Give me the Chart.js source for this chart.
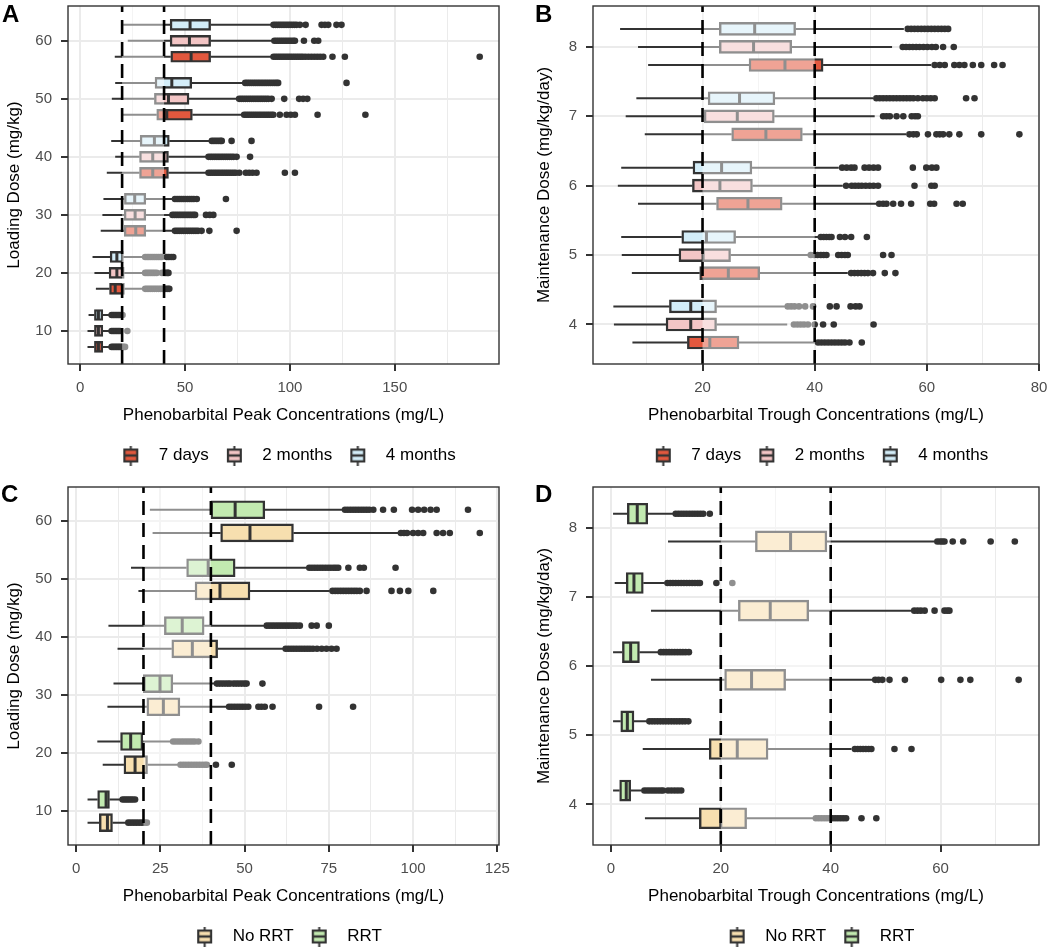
<!DOCTYPE html>
<html>
<head>
<meta charset="utf-8">
<script src="https://cdn.jsdelivr.net/npm/chart.js@4.4.1/dist/chart.umd.min.js"></script>
<style>
html,body{margin:0;padding:0;background:#fff;overflow:hidden;width:1050px;height:950px;}
.pane{position:absolute;width:525px;height:475px;}
.pane canvas{display:block;}
.lbl{position:absolute;font-family:'Liberation Sans',Arial,Helvetica,sans-serif;font-weight:bold;font-size:24px;line-height:24px;color:#000;}
</style>
</head>
<body>
<div class="pane" style="left:0;top:0"><canvas id="cA" width="525" height="475"></canvas></div>
<div class="pane" style="left:525px;top:0"><canvas id="cB" width="525" height="475"></canvas></div>
<div class="pane" style="left:0;top:481px"><canvas id="cC" width="525" height="475"></canvas></div>
<div class="pane" style="left:525px;top:481px"><canvas id="cD" width="525" height="475"></canvas></div>
<div class="lbl" style="left:2px;top:2px">A</div>
<div class="lbl" style="left:535px;top:2px">B</div>
<div class="lbl" style="left:1px;top:482px">C</div>
<div class="lbl" style="left:535px;top:482px">D</div>
<script>
// ---------------- DATA ----------------
// five-number summaries per dose: [lower whisker, Q1, median, Q3, upper whisker]
const targetRange = [20, 40];

// Panel A: loading dose vs peak concentration, by time
const doseA = [10, 20, 30, 40, 50, 60];
const xTicksA = [0, 50, 100, 150];
const xMinorA = [25, 75, 125, 175];
const yTicksA = [10, 20, 30, 40, 50, 60];
const A_7days = [[3.5,6.8,8.7,10.8,14.3],[7.5,14.0,16.7,21.1,30.2],[9.8,21.0,26.5,31.3,44.4],[12.7,28.3,34.6,42.1,60.3],[20.2,36.5,41.3,53.5,77.3],[16.5,43.2,52.9,62.2,91.3]];
const A_7days_out = [
  [15.0,15.8,16.6,17.4,18.2,19.0,19.8,20.6,21.4],
  [31.0,31.9,32.8,33.7,34.6,35.5,36.4,37.3,38.2,39.1,40.0,40.9,41.8,42.5],
  [45.2,46.2,47.2,48.2,49.2,50.2,51.2,52.2,53.2,54.2,55.2,56.2,57.9,61.6,74.6],
  [61.2,62.2,63.2,64.2,65.2,66.2,67.2,68.2,69.2,70.2,71.2,72.2,73.2,74.2,75.9,79.0,80.6,82.2,84.1,97.6,102.4],
  [78.2,79.2,80.2,81.2,82.2,83.2,84.2,85.2,86.2,87.2,88.2,89.2,90.2,91.2,92.1,95.2,98.4,100.4,102.4,113.2,136.0],
  [92.2,93.2,94.2,95.2,96.2,97.2,98.2,99.2,100.2,101.2,102.2,103.2,104.2,105.2,106.2,107.4,108.8,110.2,111.6,113.0,114.4,115.9,120.3,126.2,190.5]];
const A_2months = [[3.5,6.8,8.7,10.8,14.3],[6.8,13.8,17.5,21.0,30.2],[10.6,21.0,26.2,31.3,43.2],[16.7,28.3,34.6,42.1,60.3],[15.1,35.4,42.1,51.9,74.9],[22.7,42.9,52.1,62.2,91.7]];
const A_2months_out = [
  [15.0,15.8,16.6,17.4,18.2,19.0,22.5],
  [31.0,31.9,32.8,33.7,34.6,35.5,36.5,39.0,39.9,40.8,41.6,42.1],
  [44.0,45.0,46.0,47.0,48.0,49.0,50.0,51.0,52.0,53.0,54.0,54.8,60.0,61.8,63.5],
  [61.2,62.2,63.2,64.2,65.2,66.2,67.2,68.2,69.2,70.2,71.2,72.2,73.2,74.6,81.0],
  [75.8,76.8,77.8,78.8,79.8,80.8,81.8,82.8,83.8,84.8,85.8,86.8,87.8,88.8,89.8,91.3,97.3,104.4,106.3,108.3],
  [92.6,93.6,94.6,95.6,96.6,97.6,98.6,99.6,100.6,101.6,102.4,106.7,111.6,113.5]];
const A_4months = [[4.0,6.8,8.7,10.8,14.3],[5.9,14.3,17.5,20.6,30.2],[11.1,21.1,26.0,31.3,44.4],[14.8,28.6,35.4,42.5,61.9],[16.7,35.7,43.7,53.2,77.8],[20.5,42.9,52.4,62.2,91.3]];
const A_4months_out = [
  [15.0,15.8,16.6,17.4,18.2,19.0,20.2],
  [31.0,31.9,32.8,33.7,34.6,35.5,36.4,37.3,38.2,38.9,41.3,42.3,43.4,44.4],
  [45.2,46.2,47.2,48.2,49.2,50.2,51.2,52.2,53.2,54.2,55.6,69.5],
  [62.8,63.8,64.8,65.8,66.8,67.5,72.2,81.7],
  [78.7,79.7,80.7,81.7,82.7,83.7,84.7,85.7,86.7,87.7,88.7,89.7,90.7,91.7,92.7,93.6,94.4,127.0],
  [92.2,93.2,94.2,95.2,96.2,97.2,98.2,99.2,100.2,101.2,102.2,103.2,104.8,107.5,115.1,116.7,118.3,122.2,124.6]];

// Panel B: maintenance dose vs trough concentration, by time
const doseB = [4, 5, 6, 7, 8];
const xTicksB = [20, 40, 60, 80];
const xMinorB = [10, 30, 50, 70];
const yTicksB = [4, 5, 6, 7, 8];
const B_7days = [[7.5,17.3,21.3,26.5,40.0],[7.4,19.5,24.6,30.2,45.9],[8.5,22.5,28.1,34.2,51.0],[9.7,25.2,31.3,37.8,56.3],[10.3,28.3,34.7,41.5,60.8]];
const B_7days_out = [
  [40.6,41.2,41.8,42.4,43.0,43.6,44.2,44.8,45.4,46.2,48.4],
  [46.5,47.1,47.7,48.3,48.9,49.5,50.4,52.5,54.4],
  [51.5,52.2,52.8,54.0,55.4,57.2,60.6,61.3,65.3,66.4],
  [56.9,57.6,58.2,60.2,61.7,62.3,62.9,64.0,65.8,69.7,76.5],
  [61.4,62.3,63.2,64.9,65.8,66.7,68.2,69.7,72.0,73.5]];
const B_2months = [[4.2,13.5,17.9,22.5,35.1],[5.6,15.8,20.1,25.0,38.8],[4.9,18.2,23.1,28.9,45.0],[6.3,20.3,26.2,32.8,50.7],[8.5,23.0,29.1,35.9,53.8]];
const B_2months_out = [
  [36.3,36.9,37.5,38.1,38.8,40.0,41.5,43.4,50.5],
  [39.3,39.9,40.5,41.1,41.6,42.1,44.2,44.8,45.4,45.9,52.2,53.7],
  [45.6,46.6,47.2,47.8,48.4,49.1,49.8,50.5,51.3,57.8,60.8,61.4],
  [52.2,52.8,53.4,54.6,55.8,57.3,57.9,58.4],
  [55.7,56.3,56.9,57.5,58.1,58.7,59.4,60.1,60.9,61.6,62.9,64.8]];
const B_4months = [[4.1,14.1,17.9,22.5,34.7],[5.5,16.3,20.7,25.9,40.6],[5.5,18.3,23.4,28.8,44.3],[8.2,21.0,26.6,32.9,50.4],[5.3,23.0,29.3,36.6,55.9]];
const B_4months_out = [
  [35.2,35.8,36.4,37.2,38.3,39.7,42.7,43.9,46.4,47.3,48.0],
  [41.1,41.6,42.1,42.6,43.0,44.5,45.4,46.5,49.3],
  [44.9,45.7,46.5,47.1,48.9,49.7,50.5,51.3,57.5,59.9,60.9,61.7],
  [51.0,51.6,52.2,52.8,53.4,54.0,54.6,55.2,55.8,56.4,57.0,57.6,58.4,59.3,60.0,60.7,61.4,67.0,68.5],
  [56.6,57.2,57.8,58.4,59.0,59.6,60.2,60.8,61.4,62.0,62.6,63.2,63.8]];

// Panel C: loading dose vs peak concentration, by RRT
const doseC = [10, 20, 30, 40, 50, 60];
const xTicksC = [0, 25, 50, 75, 100, 125];
const xMinorC = [12.5, 37.5, 62.5, 87.5, 112.5];
const yTicksC = [10, 20, 30, 40, 50, 60];
const C_noRRT = [[3.4,6.9,9.3,10.8,14.8],[7.9,14.2,17.5,21.2,30.3],[9.3,21.0,25.9,30.8,44.7],[12.3,28.4,34.5,42.0,61.5],[18.5,35.3,42.7,51.6,75.3],[22.7,42.9,51.6,64.5,95.6]];
const C_noRRT_out = [
  [15.5,16.3,17.1,17.9,18.7,19.5,20.3,21.0],
  [31.0,31.8,32.6,33.4,34.2,35.0,35.8,36.6,37.4,38.2,38.8,41.5,46.2],
  [45.4,46.2,47.0,47.8,48.6,49.4,50.2,51.1,54.1,55.0,56.0,58.3,72.1,82.2],
  [62.2,63.0,63.8,64.6,65.4,66.2,67.0,67.8,68.6,69.4,70.3,71.5,72.9,74.3,75.8,77.3],
  [76.1,76.9,77.7,78.5,79.3,80.1,80.9,81.7,82.5,83.3,84.2,86.2,93.6,96.1,98.6,106.0],
  [96.4,97.3,98.2,100.0,101.5,103.0,107.0,108.9,110.9,119.8]];
const C_RRT = [[3.4,6.4,8.9,9.9,13.2],[6.3,13.2,16.2,19.8,28.1],[11.1,20.0,24.9,28.7,41.2],[9.6,26.2,31.5,38.0,56.0],[16.3,32.8,39.2,47.2,68.4],[21.9,40.0,47.2,56.0,79.1]];
const C_RRT_out = [
  [13.8,14.4,15.0,15.6,16.2,16.8,17.5],
  [28.8,29.6,30.4,31.2,32.0,32.8,33.6,34.4,35.2,36.3],
  [41.8,42.6,43.4,44.2,45.0,45.7,46.7,47.5,48.3,49.1,49.9,50.6,55.3],
  [56.6,57.4,58.2,59.0,59.8,60.6,61.4,62.2,63.0,63.8,64.6,65.4,66.4,69.9,71.4,75.0],
  [69.2,70.0,70.8,71.6,72.4,73.2,74.0,74.8,75.6,76.4,77.1,77.8,80.8,84.2,85.4,94.8],
  [79.8,80.6,81.4,82.2,83.0,83.8,84.6,85.4,86.2,87.0,88.2,91.1,94.3,99.7,101.5,103.3,105.2,107.0,116.3]];

// Panel D: maintenance dose vs trough concentration, by RRT
const doseD = [4, 5, 6, 7, 8];
const xTicksD = [0, 20, 40, 60];
const xMinorD = [10, 30, 50, 70];
const yTicksD = [4, 5, 6, 7, 8];
const D_noRRT = [[6.2,16.1,20.0,24.7,36.8],[5.8,17.9,23.0,28.6,43.8],[7.3,20.7,25.6,31.8,47.6],[7.3,23.2,29.0,36.0,54.7],[10.4,26.3,32.7,39.3,58.9]];
const D_noRRT_out = [
  [37.3,37.8,38.3,38.8,39.3,39.8,40.3,40.8,41.3,41.8,42.3,42.8,45.6,48.3],
  [44.4,44.9,45.4,45.9,46.4,46.9,47.4,51.6,54.7],
  [48.1,48.7,49.4,50.7,53.5,60.1,63.6,65.4,74.2],
  [55.2,55.8,56.4,57.1,58.9,60.7,61.2,61.6],
  [59.4,59.9,60.3,60.7,62.2,64.1,69.1,73.5]];
const D_RRT = [[0.4,1.6,2.8,3.6,5.6],[0.4,1.8,3.0,4.2,6.5],[0.4,2.1,3.6,5.2,8.6],[0.7,2.8,4.2,5.9,9.8],[0.4,3.0,4.8,6.7,11.3]];
const D_RRT_out = [
  [6.1,6.6,7.1,7.6,8.1,8.6,9.1,9.5,10.4,11.0,11.6,12.2,12.8],
  [7.0,7.5,8.0,8.5,9.0,9.5,10.0,10.5,11.0,11.5,12.0,12.5,13.0,13.5,14.1],
  [9.1,9.6,10.1,10.6,11.1,11.6,12.1,12.6,13.1,13.6,14.2],
  [10.3,10.8,11.3,11.8,12.3,12.8,13.3,13.8,14.3,14.8,15.3,15.8,16.2,19.2,22.1],
  [11.8,12.3,12.8,13.3,13.8,14.3,14.8,15.3,15.8,16.3,16.8,18.0]];

// ---------------- STYLE / LAYOUT ----------------
const FONT = "'Liberation Sans', Arial, Helvetica, sans-serif";
Chart.defaults.font.family = FONT;
const INK = '#333333';

const panels = [
  {id:'cA', doses:doseA, series:[
      {name:'7 days', stats:A_7days, out:A_7days_out, color:'#E2583E', shift:-2.75},
      {name:'2 months', stats:A_2months, out:A_2months_out, color:'#F3C5C5', shift:0},
      {name:'4 months', stats:A_4months, out:A_4months_out, color:'#D3EDF8', shift:2.75}],
   xMin:-5.8, xMax:199.7, yMin:4.3, yMax:66.0, xMajor:xTicksA, xMinor:xMinorA, yTicks:yTicksA,
   xTitle:'Phenobarbital Peak Concentrations (mg/L)', yTitle:'Loading Dose (mg/kg)', padR:26, thick:11, yTitlePad:3.8},
  {id:'cB', doses:doseB, series:[
      {name:'7 days', stats:B_7days, out:B_7days_out, color:'#E2583E', shift:-0.26},
      {name:'2 months', stats:B_2months, out:B_2months_out, color:'#F3C5C5', shift:0},
      {name:'4 months', stats:B_4months, out:B_4months_out, color:'#D3EDF8', shift:0.26}],
   xMin:0.47, xMax:80, yMin:3.43, yMax:8.59, xMajor:xTicksB, xMinor:xMinorB, yTicks:yTicksB,
   xTitle:'Phenobarbital Trough Concentrations (mg/L)', yTitle:'Maintenance Dose (mg/kg/day)', padR:11, thick:13, yTitlePad:9},
  {id:'cC', doses:doseC, series:[
      {name:'No RRT', stats:C_noRRT, out:C_noRRT_out, color:'#F7DFAF', shift:-2},
      {name:'RRT', stats:C_RRT, out:C_RRT_out, color:'#C2EAB0', shift:2}],
   xMin:-2.4, xMax:125.5, yMin:4.14, yMax:65.93, xMajor:xTicksC, xMinor:xMinorC, yTicks:yTicksC,
   xTitle:'Phenobarbital Peak Concentrations (mg/L)', yTitle:'Loading Dose (mg/kg)', padR:26, thick:18, yTitlePad:3.8},
  {id:'cD', doses:doseD, series:[
      {name:'No RRT', stats:D_noRRT, out:D_noRRT_out, color:'#F7DFAF', shift:-0.2},
      {name:'RRT', stats:D_RRT, out:D_RRT_out, color:'#C2EAB0', shift:0.2}],
   xMin:-3.25, xMax:77.9, yMin:3.413, yMax:8.587, xMajor:xTicksD, xMinor:xMinorD, yTicks:yTicksD,
   xTitle:'Phenobarbital Trough Concentrations (mg/L)', yTitle:'Maintenance Dose (mg/kg/day)', padR:11, thick:21, yTitlePad:9}
];

function keyCanvas(fill){
  const c = document.createElement('canvas');
  c.width = 39; c.height = 20;
  const g = c.getContext('2d');
  g.strokeStyle = INK; g.lineWidth = 2;
  g.beginPath(); g.moveTo(19.5,0); g.lineTo(19.5,4); g.moveTo(19.5,16); g.lineTo(19.5,20); g.stroke();
  g.fillStyle = fill; g.fillRect(13,4,13,12);
  g.lineWidth = 2.2; g.strokeRect(13.1,4.1,12.8,11.8);
  g.lineWidth = 2.4; g.beginPath(); g.moveTo(13,10); g.lineTo(26,10); g.stroke();
  return c;
}

function boxDatasets(doses, s, thick){
  const pos = doses.map(d => d + s.shift);
  const boxes = doses.map((d,i) => ({x:[s.stats[i][1], s.stats[i][3]], y:pos[i]}));
  const whisk = [];
  doses.forEach((d,i) => {
    const st = s.stats[i];
    whisk.push({x:st[0],y:pos[i]},{x:st[1],y:pos[i]},{x:null,y:null},{x:st[3],y:pos[i]},{x:st[4],y:pos[i]},{x:null,y:null});
  });
  const meds = doses.map((d,i) => ({x:s.stats[i][2], y:pos[i]}));
  const pts = [];
  doses.forEach((d,i) => s.out[i].forEach(v => pts.push({x:v, y:pos[i]})));
  return [
    {type:'line', label:s.name+' whiskers', data:whisk, borderColor:INK, borderWidth:2, pointRadius:0, spanGaps:false, order:4},
    {type:'bar', label:s.name, indexAxis:'y', data:boxes, backgroundColor:s.color, borderColor:INK, borderWidth:2.4,
     borderSkipped:false, barThickness:thick, grouped:false, order:3},
    {type:'scatter', label:s.name+' median', data:meds, pointStyle:'line', pointRotation:90, pointRadius:thick/2-1.2,
     pointBorderColor:INK, pointBorderWidth:3, borderColor:INK, order:2},
    {type:'scatter', label:s.name+' outliers', data:pts, pointRadius:3.3, pointBackgroundColor:INK, backgroundColor:INK, pointBorderWidth:0, borderWidth:0, order:2}
  ];
}

const decor = {
  id:'decor',
  beforeDatasetsDraw(chart){ chart.$ovDone = false; },
  beforeDatasetDraw(chart, args){
    const ds = chart.data.datasets[args.index];
    if (ds.isRef && !chart.$ovDone) {
      chart.$ovDone = true;
      const a = chart.chartArea, xs = chart.scales.x, ctx = chart.ctx;
      const x0 = xs.getPixelForValue(targetRange[0]), x1 = xs.getPixelForValue(targetRange[1]);
      ctx.save();
      ctx.fillStyle = 'rgba(255,255,255,0.45)';
      ctx.fillRect(x0, a.top, x1 - x0, a.bottom - a.top);
      ctx.restore();
    }
  },
  afterDraw(chart){
    const a = chart.chartArea, ctx = chart.ctx;
    ctx.save();
    ctx.strokeStyle = INK; ctx.lineWidth = 1.4;
    ctx.strokeRect(a.left, a.top, a.right - a.left, a.bottom - a.top);
    ctx.restore();
  }
};

function build(p){
  const datasets = [];
  p.series.forEach(s => datasets.push(...boxDatasets(p.doses, s, p.thick)));
  const ref = [];
  targetRange.forEach(v => ref.push({x:v, y:p.yMin}, {x:v, y:p.yMax}, {x:null, y:null}));
  datasets.push({type:'line', label:'target', isRef:true, data:ref, borderColor:'#000', borderWidth:2.6,
                 borderDash:[14,8], pointRadius:0, spanGaps:false, order:0});
  const allX = p.xMajor.concat(p.xMinor).sort((a,b)=>a-b);
  const isMaj = v => p.xMajor.includes(v);
  const keys = p.series.map(s => ({text:s.name, pointStyle:keyCanvas(s.color), fillStyle:'rgba(0,0,0,0)',
                                   strokeStyle:'rgba(0,0,0,0)', lineWidth:0, hidden:false, datasetIndex:0}));
  new Chart(document.getElementById(p.id), {
    type:'scatter',
    data:{datasets},
    options:{
      responsive:false, animation:false, events:[], devicePixelRatio:1,
      layout:{autoPadding:false, padding:{left:0, right:p.padR, top:6, bottom:1}},
      plugins:{
        tooltip:{enabled:false},
        legend:{display:true, position:'bottom', fullSize:false, align:'center',
          labels:{usePointStyle:true, pointStyleWidth:39, padding:6, color:'#000',
                  font:{family:FONT, size:17}, generateLabels:() => keys}},
      },
      scales:{
        x:{type:'linear', min:p.xMin, max:p.xMax, bounds:'data', offset:false, beginAtZero:false,
           afterBuildTicks:s => { s.ticks = allX.map(v => ({value:v})); },
           afterFit:s => { s.height = 77; s.paddingLeft = 0; s.paddingRight = 0; },
           border:{display:false},
           grid:{offset:false, color:'#EBEBEB', lineWidth:c => (c.tick && isMaj(c.tick.value)) ? 2 : 1,
                 tickColor:c => (c.tick && isMaj(c.tick.value)) ? INK : 'rgba(0,0,0,0)',
                 tickLength:7, tickWidth:2, drawTicks:true},
           ticks:{autoSkip:false, maxRotation:0, padding:8, color:'#4D4D4D', font:{family:FONT, size:15},
                  callback:v => isMaj(v) ? String(v) : ''},
           title:{display:true, text:p.xTitle, color:'#000', font:{family:FONT, size:17}, padding:{top:0, bottom:15}}
        },
        y:{type:'linear', min:p.yMin, max:p.yMax, bounds:'data', offset:false, beginAtZero:false,
           afterBuildTicks:s => { s.ticks = p.yTicks.map(v => ({value:v})); },
           afterFit:s => { s.width = 68; s.paddingTop = 0; s.paddingBottom = 0; },
           border:{display:false},
           grid:{offset:false, color:'#EBEBEB', lineWidth:2, tickColor:INK, tickLength:7, tickWidth:2, drawTicks:true},
           ticks:{autoSkip:false, padding:9, color:'#4D4D4D', font:{family:FONT, size:15}, callback:v => String(v)},
           title:{display:true, text:p.yTitle, color:'#000', font:{family:FONT, size:17}, padding:{top:p.yTitlePad, bottom:0}}
        }
      }
    },
    plugins:[decor]
  });
}

panels.forEach(build);
</script>
</body>
</html>
